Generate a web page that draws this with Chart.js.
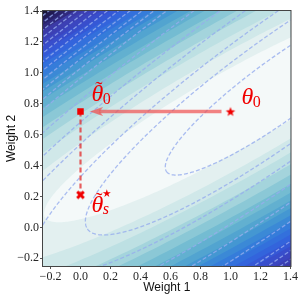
<!DOCTYPE html>
<html><head><meta charset="utf-8">
<script src="https://cdn.jsdelivr.net/npm/chart.js@4.4.0/dist/chart.umd.min.js"></script>
<style>html,body{margin:0;padding:0;background:#fff}#wrap{width:299px;height:299px;position:relative}</style>
</head><body><div id="wrap"><canvas id="c"></canvas></div>
<script>
// ---- axes ----
const xRange = [-0.25, 1.4];
const yRange = [-0.25, 1.4];
const xTicks = [-0.2, 0.0, 0.2, 0.4, 0.6, 0.8, 1.0, 1.2, 1.4];
const yTicks = [-0.2, 0.0, 0.2, 0.4, 0.6, 0.8, 1.0, 1.2, 1.4];
const xTitle = 'Weight 1';
const yTitle = 'Weight 2';

// ---- filled loss landscape (quadratic bowl) ----
const fillCenter = [1.0, 0.75];
const fillHessian = [[5.05, -8.06], [-8.06, 15.2]];
const fillLevels = [1.2, 2.4, 3.6, 4.8, 6.0, 7.2, 8.4, 9.6, 10.8, 12.0, 13.2, 14.4,
                    15.6, 16.8, 18.0, 19.2, 20.4, 21.6, 22.8, 24.0, 25.2, 26.4, 27.6, 28.8];
const fillColors = ['#f4f9f9', '#e3f0f0', '#d0e8e9', '#bde0e3', '#a4d4dc', '#8bc8d6',
                    '#74bcd2', '#62b0d0', '#52a4d0', '#4497d2', '#3b89d6', '#357cda',
                    '#3370dc', '#3364dc', '#3558d6', '#384ecc', '#3b46c0', '#3c40b4',
                    '#3b3aa6', '#302a7e', '#28226a', '#201a50', '#181434', '#120e26'];

// ---- dashed contour lines (second quadratic) ----
const lineCenter = [1.337, 0.9];
const lineHessian = [[3.31, -4.125], [-4.125, 6.25]];
const lineLevels = [0.35, 1.0, 1.65, 2.75, 3.8, 5.1, 6.65, 7.45, 8.25, 9.1, 9.95, 10.8,
                    11.65, 12.5, 13.35, 14.2, 15.05, 15.9, 16.75];

// ---- markers ----
const theta0 = [1.0, 0.75];
const thetaTilde0 = [0.0, 0.75];
const thetaTildeS = [0.0, 0.21];
const arrowLine = [[0.94, 0.75], [0.125, 0.75]];
const arrowTip = [0.062, 0.75];

// ---- labels (anchor = left/baseline of the theta glyph) ----
const label0 = [1.073, 0.80];
const labelTilde0 = [0.073, 0.818];
const labelTildeS = [0.073, 0.097];

function ellipse(center, H, level, n) {
  const a = H[0][0], b = H[0][1], c = H[1][1];
  const tr = a + c, det = a * c - b * b;
  const disc = Math.sqrt(tr * tr / 4 - det);
  const l1 = tr / 2 - disc, l2 = tr / 2 + disc;
  let vx = b, vy = l1 - a;
  const nr = Math.hypot(vx, vy); vx /= nr; vy /= nr;
  const ux = -vy, uy = vx;
  const ra = Math.sqrt(level / l1), rb = Math.sqrt(level / l2);
  const pts = [];
  for (let i = 0; i <= n; i++) {
    const t = 2 * Math.PI * i / n;
    const p = ra * Math.cos(t), q = rb * Math.sin(t);
    pts.push({x: center[0] + p * vx + q * ux, y: center[1] + p * vy + q * uy});
  }
  return pts;
}

function makeStar(r, color) {
  const cv = document.createElement('canvas');
  const s = Math.ceil(2 * r + 2); cv.width = s; cv.height = s;
  const g = cv.getContext('2d'); g.fillStyle = color; g.beginPath();
  for (let i = 0; i < 10; i++) {
    const rr = i % 2 ? r * 0.42 : r;
    const ang = -Math.PI / 2 + i * Math.PI / 5;
    const x = s / 2 + rr * Math.cos(ang), y = s / 2 + rr * Math.sin(ang) + r * 0.1;
    i ? g.lineTo(x, y) : g.moveTo(x, y);
  }
  g.closePath(); g.fill(); return cv;
}
function makeX(r, color) {
  const cv = document.createElement('canvas');
  const s = Math.ceil(2 * r + 4); cv.width = s; cv.height = s;
  const g = cv.getContext('2d'); g.strokeStyle = color; g.lineWidth = 3; g.lineCap = 'butt';
  g.beginPath(); g.moveTo(s/2 - r, s/2 - r); g.lineTo(s/2 + r, s/2 + r);
  g.moveTo(s/2 + r, s/2 - r); g.lineTo(s/2 - r, s/2 + r); g.stroke(); return cv;
}
function makeHead(len, half, color) {
  const cv = document.createElement('canvas');
  cv.width = 2 * len; cv.height = 2 * half + 2;
  const g = cv.getContext('2d'); g.fillStyle = color; g.beginPath();
  g.moveTo(len, half + 1); g.lineTo(2 * len, 1); g.lineTo(2 * len - 3, half + 1); g.lineTo(2 * len, 2 * half + 1);
  g.closePath(); g.fill(); return cv;
}

const datasets = [];
// markers on top
datasets.push({data: [{x: theta0[0], y: theta0[1]}], pointStyle: makeStar(5, '#f00000'), showLine: false, order: 0});
datasets.push({data: [{x: thetaTilde0[0], y: thetaTilde0[1]}], pointStyle: 'rect', pointRadius: 4.6,
  backgroundColor: '#f00000', borderColor: '#f00000', borderWidth: 0, showLine: false, order: 0});
datasets.push({data: [{x: thetaTildeS[0], y: thetaTildeS[1]}], pointStyle: makeX(3.3, '#f00000'), showLine: false, order: 0});
datasets.push({data: [{x: arrowTip[0], y: arrowTip[1]}], pointStyle: makeHead(13, 4.5, 'rgba(240,80,80,0.75)'), showLine: false, order: 1});
datasets.push({data: arrowLine.map(p => ({x: p[0], y: p[1]})), showLine: true, borderColor: 'rgba(240,80,80,0.7)',
  borderWidth: 3.6, pointRadius: 0, fill: false, order: 1, borderCapStyle: 'butt'});
datasets.push({data: [{x: thetaTilde0[0], y: thetaTilde0[1]}, {x: thetaTildeS[0], y: thetaTildeS[1]}], showLine: true,
  borderColor: 'rgba(225,40,40,0.75)', borderWidth: 2.2, borderDash: [5, 3], pointRadius: 0, fill: false, order: 1});
// dashed contour lines
lineLevels.forEach(l => datasets.push({data: ellipse(lineCenter, lineHessian, l, 400), showLine: true,
  borderColor: 'rgba(150,172,238,0.8)', borderWidth: 1.3, borderDash: [4, 2.2], pointRadius: 0, fill: false,
  clip: 0, order: 10}));
// filled bands, largest first (highest order drawn first)
fillLevels.forEach((l, i) => datasets.push({data: ellipse(fillCenter, fillHessian, l, 400), showLine: true,
  borderColor: 'transparent', borderWidth: 0, pointRadius: 0, fill: 'shape', backgroundColor: fillColors[i],
  clip: 0, order: 100 + i}));

const fmt = v => (v < -1e-9 ? '\u2212' : '') + Math.abs(v).toFixed(1);

function drawTheta(ctx, px, py, tilde, sub, subItalic, sup) {
  ctx.fillStyle = '#f00000';
  ctx.textBaseline = 'alphabetic'; ctx.textAlign = 'left';
  ctx.font = 'italic 24px "Liberation Serif"';
  ctx.fillText('\u03b8', px, py);
  const w = ctx.measureText('\u03b8').width;
  if (tilde) {
    ctx.font = '22px "Liberation Serif"';
    const tw = ctx.measureText('\u02dc').width;
    ctx.fillText('\u02dc', px + w / 2 - tw / 2 + 1.5, py - 5);
  }
  if (sub) {
    ctx.font = (subItalic ? 'italic ' : '') + '16px "Liberation Serif"';
    ctx.fillText(sub, px + w - 0.5, py + (subItalic ? 2 : 3));
  }
  if (sup) {
    ctx.font = '21px "DejaVu Sans"';
    ctx.fillText(sup, px + w - 3, py - 12);
  }
}

const labelPlugin = {
  id: 'labels',
  afterDatasetsDraw(chart) {
    const {ctx, chartArea: a, scales: {x, y}} = chart;
    ctx.save();
    ctx.strokeStyle = '#444'; ctx.lineWidth = 1;
    ctx.strokeRect(a.left - 0.5, a.top - 0.5, a.right - a.left + 1, a.bottom - a.top + 1);
    drawTheta(ctx, x.getPixelForValue(label0[0]), y.getPixelForValue(label0[1]), false, '0', false, null);
    drawTheta(ctx, x.getPixelForValue(labelTilde0[0]), y.getPixelForValue(labelTilde0[1]), true, '0', false, null);
    drawTheta(ctx, x.getPixelForValue(labelTildeS[0]), y.getPixelForValue(labelTildeS[1]), true, 's', true, '\u22c6');
    ctx.restore();
  }
};

const tickFont = {family: '"Liberation Serif"', size: 12};
new Chart(document.getElementById('c'), {
  type: 'line',
  data: {datasets},
  options: {
    responsive: true, maintainAspectRatio: false, animation: false, events: [],
    layout: {padding: {left: 0, right: 7, top: 11, bottom: 0}},
    plugins: {legend: {display: false}, tooltip: {enabled: false}},
    elements: {line: {tension: 0}},
    scales: {
      x: {type: 'linear', min: xRange[0], max: xRange[1],
        afterBuildTicks: s => { s.ticks = xTicks.map(v => ({value: v})); },
        afterFit: s => { s.height = 33; },
        ticks: {callback: v => fmt(v), font: tickFont, color: '#262626', padding: 1, autoSkip: false, maxRotation: 0, includeBounds: false},
        grid: {display: true, drawOnChartArea: false, drawTicks: true, tickLength: 3, color: '#555'},
        border: {display: true, color: '#444'},
        title: {display: true, text: xTitle, font: {family: '"Liberation Sans"', size: 12}, color: '#111', padding: {top: 2, bottom: 4}}},
      y: {type: 'linear', min: yRange[0], max: yRange[1],
        afterBuildTicks: s => { s.ticks = yTicks.map(v => ({value: v})); },
        afterFit: s => { s.width = 43; },
        ticks: {callback: v => fmt(v), font: tickFont, color: '#262626', padding: 1, autoSkip: false, includeBounds: false},
        grid: {display: true, drawOnChartArea: false, drawTicks: true, tickLength: 3, color: '#555'},
        border: {display: true, color: '#444'},
        title: {display: true, text: yTitle, font: {family: '"Liberation Sans"', size: 12}, color: '#111', padding: {top: 4, bottom: 2}}}
    }
  },
  plugins: [labelPlugin]
});
</script></body></html>
